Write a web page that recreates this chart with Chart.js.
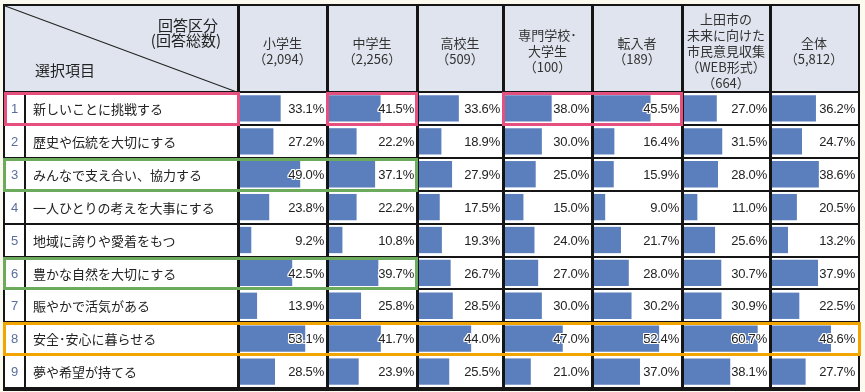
<!DOCTYPE html>
<html lang="ja">
<head>
<meta charset="utf-8">
<script src="https://cdn.jsdelivr.net/npm/chart.js@4/dist/chart.umd.min.js"></script>
<style>
  html, body { margin: 0; padding: 0; background: #fcf9ee; }
  #wrap { position: relative; width: 865px; height: 392px; overflow: hidden; background: #fcf9ee;
          font-family: "Noto Sans CJK JP", "Noto Sans", sans-serif; color: #222; }
  .abs { position: absolute; }
  .hdr { position: absolute; text-align: center; font-size: 13px; line-height: 16px; color: #333; white-space: nowrap; }
  .lbl { position: absolute; font-size: 13px; white-space: nowrap; color: #222; }
  .num { position: absolute; font-size: 13px; text-align: center; color: #5a6e9e; font-family: "Liberation Sans", sans-serif; }
  .pct { position: absolute; font-family: "Liberation Sans", Arial, sans-serif; font-size: 13px; text-align: right; color: #222;
         letter-spacing: -0.2px;
         text-shadow: -1px 0 #fff, 1px 0 #fff, 0 -1px #fff, 0 1px #fff, -1px -1px #fff, 1px 1px #fff, -1px 1px #fff, 1px -1px #fff; }
  canvas { position: absolute; }
</style>
</head>
<body>
<div id="wrap"></div>
<script>
// ---------- DATA ----------
const categories = [
  "新しいことに挑戦する",
  "歴史や伝統を大切にする",
  "みんなで支え合い、協力する",
  "一人ひとりの考えを大事にする",
  "地域に誇りや愛着をもつ",
  "豊かな自然を大切にする",
  "賑やかで活気がある",
  "安全･安心に暮らせる",
  "夢や希望が持てる"
];
const groupNames = [
  ["小学生"],
  ["中学生"],
  ["高校生"],
  ["専門学校･", "大学生"],
  ["転入者"],
  ["上田市の", "未来に向けた", "市民意見収集", "（WEB形式）"],
  ["全体"]
];
const groupTotals = ["2,094", "2,256", "509", "100", "189", "664", "5,812"];

const elementary  = [33.1, 27.2, 49.0, 23.8,  9.2, 42.5, 13.9, 53.1, 28.5];
const juniorHigh  = [41.5, 22.2, 37.1, 22.2, 10.8, 39.7, 25.8, 41.7, 23.9];
const highSchool  = [33.6, 18.9, 27.9, 17.5, 19.3, 26.7, 28.5, 44.0, 25.5];
const college     = [38.0, 30.0, 25.0, 15.0, 24.0, 27.0, 30.0, 47.0, 21.0];
const newcomers   = [45.5, 16.4, 15.9,  9.0, 21.7, 28.0, 30.2, 52.4, 37.0];
const webSurvey   = [27.0, 31.5, 28.0, 11.0, 25.6, 30.7, 30.9, 60.7, 38.1];
const overall     = [36.2, 24.7, 38.6, 20.5, 13.2, 37.9, 22.5, 48.6, 27.7];
const seriesValues = [elementary, juniorHigh, highSchool, college, newcomers, webSurvey, overall];

// ---------- LAYOUT ----------
const W = document.getElementById('wrap');
const colEdges = [4, 25, 238, 327, 417, 503, 592, 682, 770, 858];
const headTop = 5, headBottom = 92, rowH = 32.9;
const nRows = categories.length;
const tableBottom = headBottom + rowH * nRows;
const barColor = '#5b7fbd';
const axisMax = 70;

function el(tag, cls, css, text) {
  const d = document.createElement(tag);
  if (cls) d.className = cls;
  Object.assign(d.style, css || {});
  if (text !== undefined) d.textContent = text;
  W.appendChild(d);
  return d;
}
const px = v => v + 'px';

// backgrounds
el('div', 'abs', {left: px(4), top: px(headTop), width: px(854), height: px(headBottom - headTop), background: '#dfe4ee'});
el('div', 'abs', {left: px(4), top: px(headBottom), width: px(854), height: px(tableBottom - headBottom), background: '#ffffff'});

// charts (one per column)
seriesValues.forEach((vals, c) => {
  const x0 = colEdges[c + 2] + 2, x1 = colEdges[c + 3] - 1;
  const cv = document.createElement('canvas');
  cv.width = x1 - x0; cv.height = Math.round(tableBottom - headBottom);
  cv.style.left = px(x0); cv.style.top = px(headBottom);
  W.appendChild(cv);
  new Chart(cv, {
    type: 'bar',
    data: { labels: categories, datasets: [{ data: vals, backgroundColor: barColor, borderWidth: 0,
            barPercentage: 0.8, categoryPercentage: 1.0 }] },
    options: {
      indexAxis: 'y', responsive: false, animation: false, events: [],
      layout: { padding: 0 },
      plugins: { legend: { display: false }, tooltip: { enabled: false } },
      scales: {
        x: { display: false, min: 0, max: axisMax },
        y: { display: false, offset: true }
      }
    }
  });
});

// grid lines
const lineColor = '#151515';
// verticals
[238, 327, 417, 503, 592, 682, 770].forEach(x => {
  el('div', 'abs', {left: px(x - 1), top: px(headTop), width: '2.5px', height: px(tableBottom - headTop), background: lineColor});
});
el('div', 'abs', {left: px(24), top: px(headBottom), width: '1.5px', height: px(tableBottom - headBottom), background: lineColor});
// horizontals
for (let i = 0; i <= nRows; i++) {
  const y = headBottom + i * rowH;
  el('div', 'abs', {left: px(4), top: px(y - 1), width: px(854), height: '2px', background: lineColor});
}
// outer border
el('div', 'abs', {left: px(3), top: px(headTop - 1), width: px(853), height: px(tableBottom - headTop), border: '2px solid ' + lineColor});

// corner diagonal
const dx = 238 - 4, dy = headBottom - headTop;
const len = Math.sqrt(dx * dx + dy * dy), ang = Math.atan2(dy, dx) * 180 / Math.PI;
el('div', 'abs', {left: px(4), top: px(headTop), width: px(len), height: '1.2px', background: '#222',
  transformOrigin: '0 0', transform: 'rotate(' + ang + 'deg)'});

// corner texts
el('div', 'abs', {left: px(120), top: px(17), width: px(98), textAlign: 'right', fontSize: '15px', lineHeight: '15px', color: '#222'}, '回答区分');
el('div', 'abs', {left: px(110), top: px(32), width: px(111), textAlign: 'right', fontSize: '15px', lineHeight: '15px', color: '#222'}, '(回答総数)');
el('div', 'abs', {left: px(35), top: px(62), fontSize: '15px', lineHeight: '15px', color: '#222'}, '選択項目');

// column headers
groupNames.forEach((lines, c) => {
  const x0 = colEdges[c + 2], x1 = colEdges[c + 3];
  const all = lines.concat(['（' + groupTotals[c] + '）']);
  const h = all.length * 16;
  const top = (headTop + headBottom) / 2 - h / 2 + 2;
  const d = el('div', 'hdr', {left: px(x0), top: px(top), width: px(x1 - x0)});
  d.innerHTML = all.map(s => s.replace(/&/g, '&amp;').replace(/</g, '&lt;')).join('<br>');
});

// row numbers & labels & percentages
categories.forEach((cat, i) => {
  const y = headBottom + i * rowH;
  el('div', 'num', {left: px(4), top: px(y + 8), width: px(21), lineHeight: '17px'}, String(i + 1));
  el('div', 'lbl', {left: px(33), top: px(y + 7), lineHeight: '19px'}, cat);
  seriesValues.forEach((vals, c) => {
    const x0 = colEdges[c + 2], x1 = colEdges[c + 3];
    el('div', 'pct', {left: px(x0), top: px(y + 8), width: px(x1 - x0 - 3), lineHeight: '17px'}, vals[i].toFixed(1) + '%');
  });
});

// highlight boxes
const boxes = [
  {row: 0, x0: 4,   x1: 240, color: '#e5507f'},
  {row: 0, x0: 326, x1: 418, color: '#e5507f'},
  {row: 0, x0: 502, x1: 683, color: '#e5507f'},
  {row: 2, x0: 3,   x1: 418, color: '#6cab5c'},
  {row: 5, x0: 3,   x1: 418, color: '#6cab5c'},
  {row: 7, x0: 3,   x1: 861, color: '#f2a500'}
];
boxes.forEach(b => {
  const y = headBottom + b.row * rowH;
  el('div', 'abs', {left: px(b.x0), top: px(y), width: px(b.x1 - b.x0), height: px(rowH + 1),
    border: '3.5px solid ' + b.color, boxSizing: 'border-box'});
});
</script>
</body>
</html>
